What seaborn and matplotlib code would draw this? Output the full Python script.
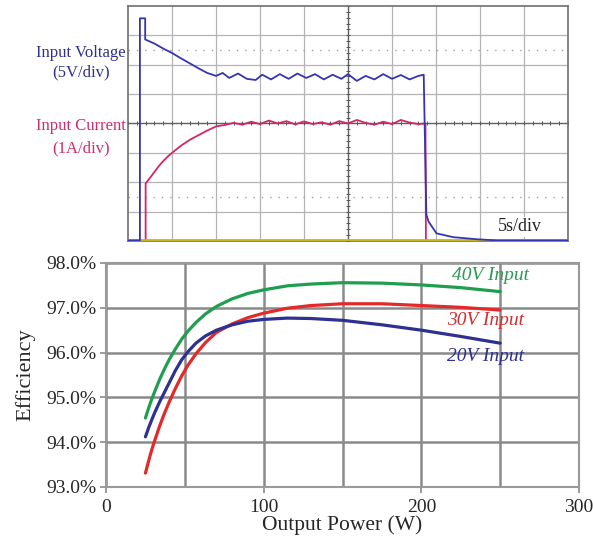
import numpy as np
import pandas as pd
import seaborn as sns
import matplotlib.pyplot as plt
from matplotlib.ticker import FuncFormatter

# scope screen, in divisions (10 x 8)
volt_t = [0.0, 0.27, 0.27, 0.39, 0.39, 0.6, 0.8, 1.0, 1.2, 1.4, 1.6, 1.8, 2.0,
          2.15, 2.3, 2.5, 2.7, 2.9, 3.05, 3.25, 3.45, 3.65, 3.85, 4.05, 4.25, 4.45,
          4.65, 4.85, 5.0, 5.2, 5.4, 5.6, 5.8, 6.0, 6.2, 6.4, 6.6, 6.72,
          6.78, 6.83, 7.01, 7.39, 7.92, 8.38, 10.0]
volt_v = [0.02, 0.02, 7.58, 7.58, 6.86, 6.72, 6.55, 6.40, 6.22, 6.05, 5.88, 5.72, 5.62,
          5.72, 5.55, 5.70, 5.52, 5.48, 5.66, 5.50, 5.68, 5.52, 5.70, 5.55, 5.68, 5.50,
          5.66, 5.52, 5.68, 5.45, 5.62, 5.50, 5.68, 5.52, 5.65, 5.50, 5.62, 5.66,
          0.9, 0.66, 0.26, 0.13, 0.06, 0.02, 0.02]

curr_t = [0.0, 0.40, 0.40, 0.5, 0.6, 0.7, 0.8, 0.9, 1.0, 1.1, 1.2, 1.3, 1.4, 1.5,
          1.6, 1.7, 1.8, 1.9, 2.0, 2.2, 2.4, 2.6, 2.8, 3.0, 3.2, 3.4, 3.6, 3.8, 4.0,
          4.2, 4.4, 4.6, 4.8, 5.0, 5.2, 5.4, 5.6, 5.8, 6.0, 6.2, 6.4, 6.6, 6.76, 6.77, 10.0]
curr_v = [0.0, 0.0, 1.96, 2.15, 2.35, 2.55, 2.72, 2.87, 3.0, 3.12, 3.24, 3.34, 3.44, 3.52,
          3.60, 3.68, 3.76, 3.83, 3.90, 3.95, 4.02, 3.96, 4.06, 3.98, 4.10, 4.0, 4.08, 3.97, 4.07,
          3.98, 4.04, 3.96, 4.08, 4.0, 4.12, 4.02, 3.96, 4.06, 3.98, 4.12, 4.03, 3.98, 4.0, 0.0, 0.0]

# efficiency curves
power = [25, 27, 29, 31, 34, 37, 40, 44, 48, 52, 57, 63, 70, 80, 90, 100,
         115, 130, 150, 175, 200, 225, 250]
eff_40v = [94.54, 94.76, 94.96, 95.14, 95.40, 95.63, 95.84, 96.08, 96.30, 96.48, 96.67, 96.86,
           97.03, 97.20, 97.32, 97.40, 97.49, 97.53, 97.56, 97.55, 97.51, 97.45, 97.36]
eff_30v = [93.31, 93.58, 93.83, 94.05, 94.36, 94.64, 94.89, 95.20, 95.48, 95.72, 95.97, 96.22,
           96.45, 96.64, 96.78, 96.88, 96.99, 97.05, 97.09, 97.09, 97.05, 97.01, 96.95]
eff_20v = [94.12, 94.32, 94.50, 94.67, 94.90, 95.11, 95.32, 95.60, 95.84, 96.02, 96.21, 96.37,
           96.50, 96.62, 96.70, 96.74, 96.77, 96.76, 96.72, 96.62, 96.50, 96.36, 96.21]
series_names = ["40V Input", "30V Input", "20V Input"]
series_colors = ["#1f9e50", "#e32a2a", "#2e3192"]

sns.set_style("white")
plt.rcParams['font.family'] = ['Liberation Serif', 'DejaVu Serif']

fig = plt.figure(figsize=(5.93, 5.39), dpi=100)

# ---- top: scope capture ----
ax1 = fig.add_axes([0.2159, 0.5529, 0.742, 0.436])
ax1.set_xlim(0, 10)
ax1.set_ylim(0, 8)
for i in range(1, 10):
    if i != 5:
        ax1.axvline(i, color='#b4b4b4', lw=0.9, zorder=1)
for j in range(1, 8):
    if j != 4:
        ax1.axhline(j, color='#b4b4b4', lw=0.9, zorder=1)
for j in (1.5, 6.5):
    ax1.axhline(j, color='#a0a0a0', lw=1, ls=(0, (1, 5)), zorder=1)
ax1.axvline(5, color='#606060', lw=1, zorder=1)
ax1.axhline(4, color='#606060', lw=1, zorder=1)
tx = np.arange(0, 10.01, 0.2)
ty = np.arange(0, 8.01, 0.2)
ax1.plot(tx, np.full_like(tx, 4), ls='none', marker='|', ms=3, color='#555555', mew=0.7, zorder=1)
ax1.plot(np.full_like(ty, 5), ty, ls='none', marker='_', ms=3, color='#555555', mew=0.7, zorder=1)

sns.lineplot(x=curr_t, y=curr_v, sort=False, estimator=None, color='#d4246a', lw=1.3, ax=ax1, zorder=3)
ax1.axhline(0.03, color='#c8b420', lw=2, zorder=4)
sns.lineplot(x=volt_t, y=volt_v, sort=False, estimator=None, color='#3535b0', lw=1.3, ax=ax1, zorder=5)

ax1.text(8.9, 0.48, "5s/div", fontsize=13, ha='center', va='center', zorder=6,
         bbox=dict(facecolor='white', edgecolor='none', pad=1))
ax1.set_xticks([])
ax1.set_yticks([])
ax1.set_xlabel("")
ax1.set_ylabel("")
for s in ax1.spines.values():
    s.set_color('#707070')
    s.set_linewidth(1.2)

fig.text(0.136, 0.902, "Input Voltage", color='#2e3192', fontsize=12, ha='center', va='center')
fig.text(0.136, 0.866, "(5V/div)", color='#2e3192', fontsize=12, ha='center', va='center')
fig.text(0.136, 0.766, "Input Current", color='#d02c6c', fontsize=12, ha='center', va='center')
fig.text(0.136, 0.725, "(1A/div)", color='#d02c6c', fontsize=12, ha='center', va='center')

# ---- bottom: efficiency ----
ax2 = fig.add_axes([0.1788, 0.0965, 0.7976, 0.4156])
df = pd.DataFrame({
    "power": power * 3,
    "eff": eff_40v + eff_30v + eff_20v,
    "series": [n for n in series_names for _ in power],
})
sns.lineplot(data=df, x="power", y="eff", hue="series", hue_order=series_names,
             palette=series_colors, lw=2.3, legend=False, ax=ax2, zorder=3)

ax2.set_xlim(0, 300)
ax2.set_ylim(93, 98)
ax2.set_xticks([0, 100, 200, 300])
ax2.set_xticks([50, 150, 250], minor=True)
ax2.set_yticks([93, 94, 95, 96, 97, 98])
ax2.yaxis.set_major_formatter(FuncFormatter(lambda v, p: f"{v:.1f}%"))
ax2.grid(True, which='both', axis='x', color='#8a8a8a', lw=1.8)
ax2.grid(True, which='major', axis='y', color='#8a8a8a', lw=1.8)
ax2.set_axisbelow(True)
ax2.tick_params(axis='both', which='major', length=4, width=1.2, color='#8a8a8a',
                labelsize=14, pad=3, direction='out', bottom=True, left=True)
ax2.tick_params(axis='x', which='major', pad=5)
ax2.tick_params(axis='x', which='minor', length=0)
for s in ax2.spines.values():
    s.set_color('#9a9a9a')
    s.set_linewidth(1.5)

ax2.set_xlabel("Output Power (W)", fontsize=15.5, labelpad=-1)
ax2.set_ylabel("Efficiency", fontsize=16, labelpad=8)

label_pos = [(219.5, 97.73), (216.5, 96.71), (216.5, 95.92)]
text_colors = ["#2a9a55", "#d03030", "#2e3192"]
for name, (lx, ly), c in zip(series_names, label_pos, text_colors):
    ax2.text(lx, ly, name, color=c, fontsize=14, fontstyle='italic', ha='left', va='center', zorder=4)

fig.savefig("out.png", dpi=100)
